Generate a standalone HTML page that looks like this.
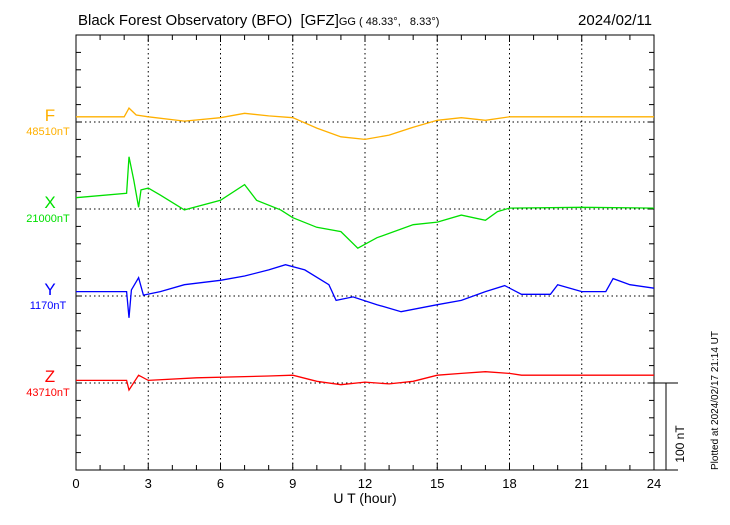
<!DOCTYPE html>
<html><head><meta charset="utf-8"><style>
body{margin:0;background:#fff;width:730px;height:520px;overflow:hidden}
svg text{font-family:"Liberation Sans",sans-serif}
</style></head><body>
<svg id="c" width="730" height="520" xmlns="http://www.w3.org/2000/svg">
<text x="78" y="25" font-size="15" style="white-space:pre">Black Forest Observatory (BFO)  [GFZ]<tspan font-size="11">GG ( 48.33°,   8.33°)</tspan></text>
<text x="652" y="25" font-size="15" text-anchor="end">2024/02/11</text>
<text x="365" y="503" font-size="14" text-anchor="middle">U T (hour)</text>
<text transform="translate(718,470) rotate(-90)" font-size="10">Plotted at 2024/02/17 21:14 UT</text>
<text transform="translate(684,444) rotate(-90)" font-size="12" text-anchor="middle">100 nT</text>
</svg>
<script>
const hoursF=[0,2,2.2,2.5,3,4.5,6,7,8,9,10,11,12,13,14,15,16,17,18,24];
const valsF=[6,6,16,8,6,1,5,10,7,5,-7,-17,-20,-15,-6,2,5,2,6,6];
const hoursX=[0,2.1,2.2,2.4,2.6,2.7,3,3.5,4.5,6,7,7.5,8.5,9,10,11,11.7,12.5,14,15,16,17,17.5,18,21,24];
const valsX=[13,18,60,33,2,22,24,16,-1,10,28,10,-1,-10,-21,-26,-45,-33,-18,-15,-7,-13,-3,1,2,1];
const hoursY=[0,2.1,2.2,2.3,2.6,2.8,3.5,4.5,6,7,8,8.7,9.5,10.5,10.8,11.5,12.5,13.5,15,16,17,17.8,18.5,19.7,20,21,22,22.3,23,24];
const valsY=[5,5,-25,7,21,1,5,13,18,23,30,36,30,13,-5,-1,-10,-18,-10,-5,5,12,2,2,13,5,5,20,13,9];
const hoursZ=[0,2.1,2.2,2.6,3,5,8,9,10,11,12,13,14,15,16,17,18,18.5,24];
const valsZ=[3,3,-8,9,3,6,8,9,2,-2,1,-1,2,9,11,13,11,9,9];
const xTicks=[0,3,6,9,12,15,18,21,24];
const baselines=[122,209,296,383];
const comps=["F","X","Y","Z"];
const compLabels=["48510nT","21000nT","1170nT","43710nT"];
const colors=["#ffb000","#00e000","#0000ff","#ff0000"];
const L=76,R=654,T=35,B=470,pxPerNT=0.87;
const sx=h=>L+(R-L)*h/24;
const NS="http://www.w3.org/2000/svg";
const svg=document.getElementById('c');
function mk(tag,attrs){const e=document.createElementNS(NS,tag);for(const k in attrs)e.setAttribute(k,attrs[k]);svg.appendChild(e);return e;}
xTicks.forEach((h,i)=>{
  if(i>0&&i<xTicks.length-1){const g=mk('line',{x1:sx(h),x2:sx(h),y1:T,y2:B,stroke:'#000','stroke-dasharray':'1.5,3','stroke-width':1});
  
  }
  const t=mk('text',{x:sx(h),y:488,'font-size':13,'text-anchor':'middle'});t.textContent=h;
  
  
});
for(let h=0;h<=24;h++){
  const a=mk('line',{x1:sx(h),x2:sx(h),y1:T,y2:T+(h%3?5:7),stroke:'#000'});
  
  
  const b=mk('line',{x1:sx(h),x2:sx(h),y1:B,y2:B-(h%3?5:7),stroke:'#000'});
  
  
}
for(let y=T;y<=B+0.1;y+=17.4){
  const a=mk('line',{x1:L,x2:L+5,y1:y,y2:y,stroke:'#000'});
  
  
  const b=mk('line',{x1:R,x2:R-5,y1:y,y2:y,stroke:'#000'});
  
  
}
baselines.forEach((y,i)=>{
  const g=mk('line',{x1:L,x2:R,y1:y,y2:y,stroke:'#000','stroke-dasharray':'1.5,3'});
  
  
  const t=mk('text',{x:50,y:y-1,'font-size':17,'text-anchor':'middle',fill:colors[i]});t.textContent=comps[i];
  
  
  const t2=mk('text',{x:48,y:y+13,'font-size':11,'text-anchor':'middle',fill:colors[i]});t2.textContent=compLabels[i];
  
  
});
const frame=mk('rect',{x:L,y:T,width:R-L,height:B-T,fill:'none',stroke:'#000'});


const ax=mk('line',{x1:R,x2:678,y1:B,y2:B,stroke:'#000'});


const sb1=mk('line',{x1:R,x2:678,y1:383,y2:383,stroke:'#000'});


const sb2=mk('line',{x1:666,x2:666,y1:383,y2:470,stroke:'#000'});


const series=[[hoursF,valsF],[hoursX,valsX],[hoursY,valsY],[hoursZ,valsZ]];
series.forEach((s,i)=>{
  const pts=s[0].map((h,j)=>sx(h).toFixed(1)+','+(baselines[i]-s[1][j]*pxPerNT).toFixed(1)).join(' ');
  const p=mk('polyline',{points:pts,fill:'none',stroke:colors[i],'stroke-width':1.3});
  
  
});
</script>
</body></html>
